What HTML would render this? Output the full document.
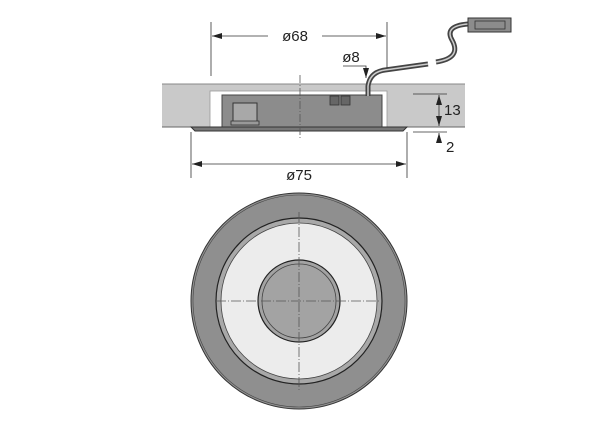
<!DOCTYPE html>
<html><head><style>body{margin:0;background:#fff}svg{display:block}text{font-family:"Liberation Sans",sans-serif;font-size:15px;fill:#222}</style></head><body>
<svg width="600" height="423" viewBox="0 0 600 423">
<defs><marker id="a" markerWidth="10" markerHeight="6" refX="10" refY="3" orient="auto-start-reverse" markerUnits="userSpaceOnUse"><path d="M0,0 L10,3 L0,6z" fill="#222"/></marker></defs>
<rect x="162" y="84" width="303" height="43" fill="#c9c9c9"/>
<line x1="162" y1="84" x2="465" y2="84" stroke="#888" stroke-width="1"/>
<line x1="162" y1="127" x2="465" y2="127" stroke="#666" stroke-width="1"/>
<rect x="210" y="91" width="177" height="36" fill="#fff" stroke="#999" stroke-width="0.8"/>
<rect x="222" y="95" width="160" height="32" fill="#8c8c8c" stroke="#444" stroke-width="1"/>
<rect x="233" y="103" width="24" height="20" fill="#a8a8a8" stroke="#333" stroke-width="1"/>
<rect x="231" y="121" width="28" height="4" fill="#999" stroke="#333" stroke-width="0.8"/>
<rect x="330" y="96" width="9" height="9" fill="#666" stroke="#333" stroke-width="0.8"/>
<rect x="341" y="96" width="9" height="9" fill="#666" stroke="#333" stroke-width="0.8"/>
<path d="M191,127 L407,127 L403,131 L195,131z" fill="#777" stroke="#333" stroke-width="1"/>
<line x1="300" y1="75" x2="300" y2="140" stroke="#555" stroke-width="0.8" stroke-dasharray="8,2,1,2"/>
<g fill="none" stroke="#444" stroke-width="5"><path d="M368,96 L368,86 Q370,72 385,70 L428,64"/><path d="M436,62 Q462,58 452,40 Q444,26 468,24"/></g>
<g fill="none" stroke="#ccc" stroke-width="1.5"><path d="M368,96 L368,86 Q370,72 385,70 L428,64"/><path d="M436,62 Q462,58 452,40 Q444,26 468,24"/></g>
<rect x="468" y="18" width="43" height="14" fill="#8c8c8c" stroke="#333"/>
<rect x="475" y="21" width="30" height="8" fill="none" stroke="#333" stroke-width="0.8"/>
<g stroke="#333" stroke-width="0.8" fill="none">
<line x1="211" y1="22" x2="211" y2="76"/><line x1="387" y1="22" x2="387" y2="68"/>
<line x1="212" y1="36" x2="268" y2="36" marker-start="url(#a)"/><line x1="322" y1="36" x2="386" y2="36" marker-end="url(#a)"/>
<line x1="191" y1="132" x2="191" y2="178"/><line x1="407" y1="132" x2="407" y2="178"/>
<line x1="192" y1="164" x2="406" y2="164" marker-start="url(#a)" marker-end="url(#a)"/>
<path d="M343,66 L366,66 L366,78" marker-end="url(#a)"/>
<line x1="413" y1="94" x2="447" y2="94"/><line x1="413" y1="132" x2="447" y2="132"/>
<line x1="439" y1="95" x2="439" y2="126" marker-start="url(#a)" marker-end="url(#a)"/>
<line x1="439" y1="143" x2="439" y2="133" marker-end="url(#a)"/>
</g>
<text x="295" y="41" text-anchor="middle">ø68</text>
<text x="351" y="62" text-anchor="middle">ø8</text>
<text x="299" y="180" text-anchor="middle">ø75</text>
<text x="444" y="115">13</text>
<text x="446" y="152">2</text>
<circle cx="299" cy="301" r="108" fill="#8f8f8f" stroke="#333" stroke-width="1"/>
<circle cx="299" cy="301" r="106" fill="none" stroke="#444" stroke-width="0.6"/>
<circle cx="299" cy="301" r="83" fill="#a8a8a8" stroke="#222" stroke-width="1.2"/>
<circle cx="299" cy="301" r="78" fill="#ececec" stroke="#444" stroke-width="0.8"/>
<circle cx="299" cy="301" r="41" fill="#a3a3a3" stroke="#222" stroke-width="1.2"/>
<circle cx="299" cy="301" r="37" fill="none" stroke="#444" stroke-width="0.8"/>
<g stroke="#555" stroke-width="0.8" stroke-dasharray="10,2,1,2"><line x1="299" y1="212" x2="299" y2="390"/><line x1="216" y1="301" x2="382" y2="301"/></g>
</svg>
</body></html>
